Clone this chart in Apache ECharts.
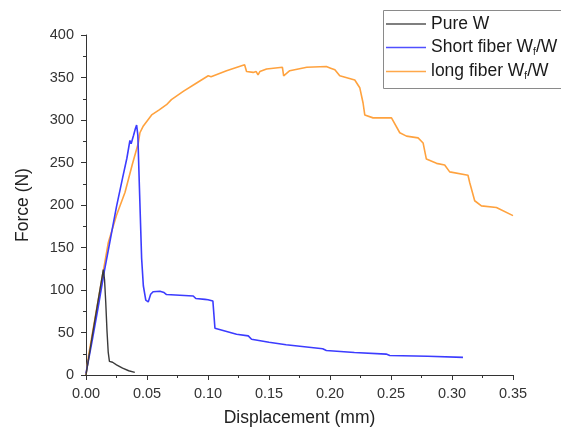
<!DOCTYPE html>
<html><head><meta charset="utf-8">
<script src="https://cdn.jsdelivr.net/npm/echarts@6/dist/echarts.min.js"></script>
<style>html,body{margin:0;padding:0;background:#fff}#c{width:561px;height:432px}</style>
</head><body><div id="c"></div>
<script>
const xTicks = [0, 0.05, 0.10, 0.15, 0.20, 0.25, 0.30, 0.35];
const yTicks = [0, 50, 100, 150, 200, 250, 300, 350, 400];
const seriesNames = ['Pure W', 'Short fiber W_f/W', 'long fiber W_f/W'];

const pureW = [[0,0],[0.005,45],[0.010,88],[0.0142,124],[0.0152,112],[0.0162,85],[0.0172,52],[0.0182,27],[0.0192,16],[0.0205,14.5],[0.0218,15],[0.025,12],[0.030,8],[0.035,5],[0.040,3]];

const shortFiber = [[0,2],[0.005,40],[0.010,80],[0.015,122],[0.020,160],[0.025,198],[0.030,232],[0.0335,255],[0.0347,265],[0.036,276],[0.037,272],[0.039,282],[0.0405,290],[0.0415,294],[0.0425,282],[0.0438,220],[0.0456,137],[0.047,105],[0.0490,88],[0.0497,86],[0.051,86],[0.053,95],[0.055,98],[0.0606,98.6],[0.064,97],[0.066,94.7],[0.0879,93],[0.090,90],[0.0975,89],[0.100,88.5],[0.104,87],[0.1057,55],[0.1234,48],[0.133,46],[0.1357,42],[0.150,38.5],[0.164,35.5],[0.194,30.8],[0.197,28.9],[0.220,26.5],[0.246,24.6],[0.249,23],[0.280,22],[0.309,20.7]];

const longFiber = [[0,0],[0.002,22],[0.006,55],[0.010,88],[0.0183,156],[0.025,188],[0.032,215],[0.038,248],[0.0429,273],[0.0442,285],[0.047,293],[0.0483,295],[0.0538,306],[0.060,312],[0.066,318],[0.070,324],[0.0797,333.7],[0.090,343],[0.1002,352],[0.1025,351],[0.1152,358],[0.130,365],[0.1316,357],[0.137,356],[0.1395,357],[0.141,353],[0.1425,357],[0.148,360],[0.161,362],[0.162,352],[0.167,358],[0.181,362],[0.197,363],[0.2005,361],[0.204,359],[0.208,352],[0.2203,347],[0.2244,338],[0.2271,320],[0.2285,306],[0.2353,302.5],[0.2504,302.5],[0.2572,285],[0.2627,281],[0.2722,279],[0.2763,273],[0.279,254],[0.2873,249],[0.294,247],[0.2981,239],[0.3131,235],[0.3145,226.5],[0.3186,205],[0.3241,199],[0.3364,197],[0.35,187.5]];

const colors = ['#3a3a3a', '#3c3cff', '#ffa23e'];
const FONT = '"Liberation Sans", Arial, sans-serif';

function legendFmt(name) {
  const parts = name.split('_');
  if (parts.length === 1) return '{a|' + name + '}';
  return '{a|' + parts[0] + '}{s|' + parts[1].charAt(0) + '}{a|' + parts[1].slice(1) + '}';
}

const chart = echarts.init(document.getElementById('c'), null, {renderer: 'canvas'});
chart.setOption({
  animation: false,
  backgroundColor: '#fff',
  color: colors,
  grid: {left: 86, right: 48, top: 35, bottom: 55, containLabel: false},
  graphic: [{
    type: 'rect', z: 100, silent: true,
    shape: {x: 383.5, y: 10.5, width: 220, height: 78},
    style: {fill: 'none', stroke: '#8a8a8a', lineWidth: 1}
  }],
  legend: {
    orient: 'vertical', left: 383, top: 10,
    padding: [5, 10, 8, 3],
    itemGap: 5, itemWidth: 40, itemHeight: 16,
    borderWidth: 0,
    data: seriesNames.map((n, i) => ({name: n, icon: 'path://M0,0 L40,0 L40,1.5 L0,1.5 Z', itemStyle: {color: i === 0 ? '#555' : (i === 1 ? '#5050ff' : '#ffa84a')}})),
    formatter: legendFmt,
    textStyle: {
      fontFamily: FONT, fontSize: 17.5, color: '#1a1a1a',
      rich: {
        a: {fontFamily: FONT, fontSize: 17.5, lineHeight: 18, color: '#1a1a1a'},
        s: {fontFamily: FONT, fontSize: 10, lineHeight: 18, color: '#1a1a1a', padding: [9, 0, 0, 0]}
      }
    }
  },
  xAxis: {
    type: 'value', min: 0, max: 0.35, interval: 0.05,
    name: 'Displacement (mm)', nameLocation: 'middle', nameGap: 34,
    nameTextStyle: {fontFamily: FONT, fontSize: 17.5, color: '#222'},
    axisLine: {show: true, onZero: false, lineStyle: {color: '#333', width: 1}},
    axisTick: {show: true, inside: false, length: 5, lineStyle: {color: '#333'}},
    minorTick: {show: true, splitNumber: 2, length: 3, lineStyle: {color: '#333'}},
    splitLine: {show: false},
    axisLabel: {fontFamily: FONT, fontSize: 14.5, color: '#333', margin: 11,
      formatter: v => { const t = xTicks.find(x => Math.abs(x - v) < 1e-9); return (t !== undefined ? t : v).toFixed(2); }}
  },
  yAxis: {
    type: 'value', min: 0, max: 400, interval: 50,
    name: 'Force (N)', nameLocation: 'middle', nameGap: 54,
    nameTextStyle: {fontFamily: FONT, fontSize: 17.5, color: '#222'},
    axisLine: {show: true, onZero: false, lineStyle: {color: '#333', width: 1}},
    axisTick: {show: true, inside: false, length: 5, lineStyle: {color: '#333'}},
    minorTick: {show: true, splitNumber: 2, length: 3, lineStyle: {color: '#333'}},
    splitLine: {show: false},
    axisLabel: {fontFamily: FONT, fontSize: 14.5, color: '#333', margin: 12,
      formatter: v => String(yTicks.find(y => y === v) ?? v)}
  },
  series: [
    {name: seriesNames[0], type: 'line', data: pureW, symbol: 'none', lineStyle: {width: 1.4, color: colors[0]}, z: 3},
    {name: seriesNames[1], type: 'line', data: shortFiber, symbol: 'none', lineStyle: {width: 1.6, color: colors[1]}, z: 2},
    {name: seriesNames[2], type: 'line', data: longFiber, symbol: 'none', lineStyle: {width: 1.6, color: colors[2]}, z: 1}
  ]
});
</script></body></html>
